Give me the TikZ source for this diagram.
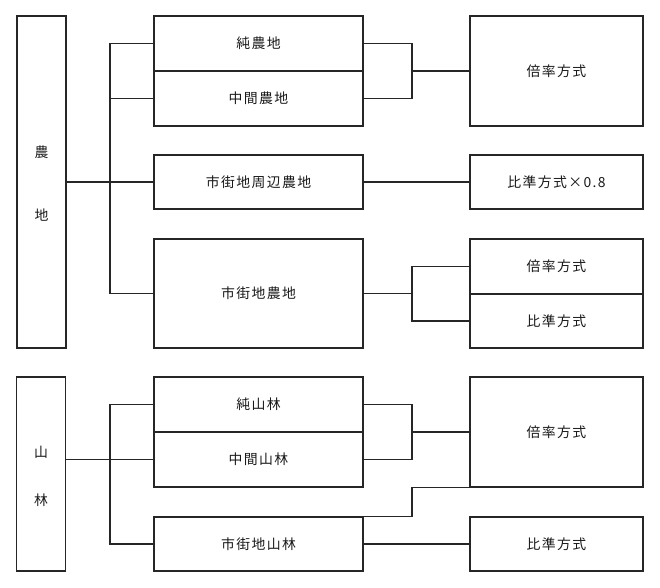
\documentclass[tikz,border=0pt]{standalone}
\usepackage{fontspec}
\newfontfamily\cjk[LetterSpace=10]{Noto Sans CJK JP}
\begin{document}
\begin{tikzpicture}[x=0.75pt,y=-0.75pt,
  box/.style={draw=black!85,line width=1.1pt,inner sep=0pt,font=\cjk\fontsize{10.4}{12}\selectfont,text=black!90},
  lbox/.style={box,minimum width=36.75pt},
  mbox/.style={box,minimum width=156.75pt},
  rbox/.style={box,minimum width=129.75pt},
  conn/.style={draw=black!85,line width=1.1pt},
  vchar/.style={font=\cjk\fontsize{10.4}{12}\selectfont,text=black!90,inner sep=0pt}]
\useasboundingbox (0,0) rectangle (660,587);
% --- farmland ---
\node[lbox,minimum height=249pt] (nouchi) at (41.5,182) {};
\node[vchar] (nou1) at (41.5,152) {農};
\node[vchar] (nou2) at (41.5,215) {地};
\node[mbox,minimum height=41.25pt] (jun) at (258.5,43.5) {純農地};
\node[mbox,minimum height=41.25pt] (chukan) at (258.5,98.5) {中間農地};
\node[mbox,minimum height=40.5pt] (shuhen) at (258.5,182) {市街地周辺農地};
\node[mbox,minimum height=81.75pt] (shigai) at (258.5,293.5) {市街地農地};
\node[rbox,minimum height=82.5pt] (bai1) at (556.5,71) {倍率方式};
\node[rbox,minimum height=40.5pt] (hij1) at (556.5,182) {比準方式×0.8};
\node[rbox,minimum height=41.25pt] (bai2) at (556.5,266.5) {倍率方式};
\node[rbox,minimum height=40.5pt] (hij2) at (556.5,321) {比準方式};
% --- forest ---
\node[lbox,minimum height=145.5pt] (sanrin) at (41,474) {};
\node[vchar] (san1) at (41,452) {山};
\node[vchar] (san2) at (41,500) {林};
\node[mbox,minimum height=41.25pt] (juns) at (258.5,404.5) {純山林};
\node[mbox,minimum height=41.25pt] (chukans) at (258.5,459.5) {中間山林};
\node[mbox,minimum height=40.5pt] (shigais) at (258.5,544) {市街地山林};
\node[rbox,minimum height=82.5pt] (bai3) at (556.5,432) {倍率方式};
\node[rbox,minimum height=40.5pt] (hij3) at (556.5,544) {比準方式};
% bus coordinates
\coordinate (bl) at (110,0);
\coordinate (br) at (412,0);
% --- farmland connectors ---
\draw[conn] (nouchi.east) -- (shuhen.west);
\draw[conn] (jun.west) -| (bl |- shigai.west) -- (shigai.west);
\draw[conn] (chukan.west) -- (chukan.west -| bl);
\draw[conn] (jun.east) -| (br |- chukan.east) -- (chukan.east);
\draw[conn] (br |- bai1.west) -- (bai1.west);
\draw[conn] (shuhen.east) -- (hij1.west);
\draw[conn] (shigai.east) -- (shigai.east -| br);
\draw[conn] (bai2.west) -| (br |- hij2.west) -- (hij2.west);
% --- forest connectors ---
\draw[conn] (sanrin.east |- chukans.west) -- (chukans.west);
\draw[conn] (juns.west) -| (bl |- shigais.west) -- (shigais.west);
\draw[conn] (juns.east) -| (br |- chukans.east) -- (chukans.east);
\draw[conn] (br |- bai3.west) -- (bai3.west);
\draw[conn] (shigais.north east) -| (br |- bai3.south west) -- (bai3.south west);
\draw[conn] (shigais.east) -- (hij3.west);
\end{tikzpicture}
\end{document}
